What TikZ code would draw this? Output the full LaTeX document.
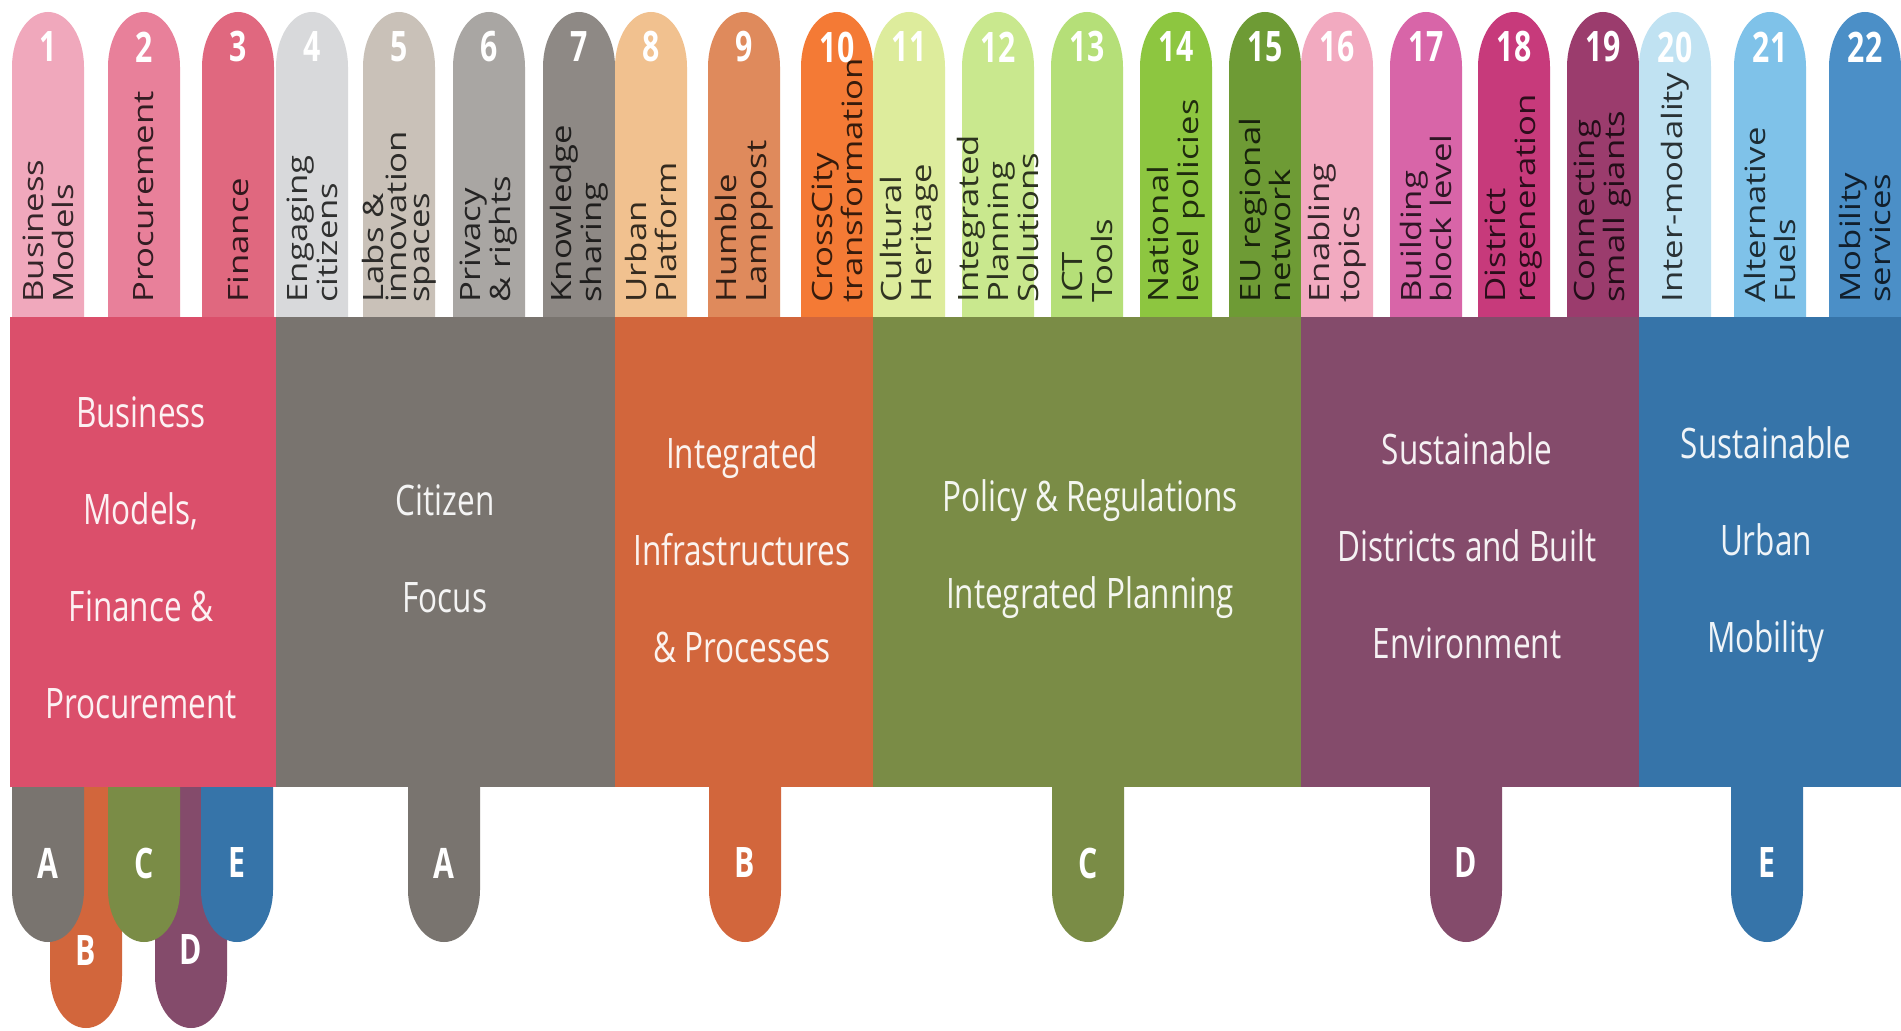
\documentclass[tikz,border=0pt]{standalone}
\usepackage{fontspec}
\setmainfont{Open Sans}
\newfontfamily\labelfont[FakeStretch=1.24]{Open Sans}
\newfontfamily\titlefont[FakeStretch=0.75]{Open Sans}
\newfontfamily\numfont[FakeStretch=0.72]{Open Sans}
\usepackage{tikz}
\definecolor{pl1}{HTML}{F0A8BC}
\definecolor{pl2}{HTML}{E8809A}
\definecolor{pl3}{HTML}{E0687F}
\definecolor{pl4}{HTML}{D8D9DB}
\definecolor{pl5}{HTML}{C9C1B8}
\definecolor{pl6}{HTML}{A9A6A3}
\definecolor{pl7}{HTML}{8E8985}
\definecolor{pl8}{HTML}{F1C18F}
\definecolor{pl9}{HTML}{DF8A5C}
\definecolor{pl10}{HTML}{F47A35}
\definecolor{pl11}{HTML}{DDEC9C}
\definecolor{pl12}{HTML}{C9E88E}
\definecolor{pl13}{HTML}{B5DF78}
\definecolor{pl14}{HTML}{8DC640}
\definecolor{pl15}{HTML}{6E9B35}
\definecolor{pl16}{HTML}{F2AAC0}
\definecolor{pl17}{HTML}{D865A8}
\definecolor{pl18}{HTML}{C73A7B}
\definecolor{pl19}{HTML}{9B3C6D}
\definecolor{pl20}{HTML}{C0E2F2}
\definecolor{pl21}{HTML}{7FC2E9}
\definecolor{pl22}{HTML}{4B8FC7}
\definecolor{bandRed}{HTML}{DB4F6B}
\definecolor{bandGray}{HTML}{79746F}
\definecolor{bandOrange}{HTML}{D2663C}
\definecolor{bandGreen}{HTML}{7A8C46}
\definecolor{bandPurple}{HTML}{844B6B}
\definecolor{bandBlue}{HTML}{3674A9}
\tikzset{
    num/.style      = {text=white, inner sep=0pt,
            font=\numfont\bfseries\fontsize{21}{21}\selectfont},
    letter/.style   = {num},
    lab/.style      = {rotate=90, anchor=west, align=left, inner sep=0pt,
            font=\labelfont\fontsize{14}{15}\selectfont},
    labTight/.style = {lab, font=\labelfont\fontsize{14}{11.5}\selectfont},
    title/.style    = {anchor=base, align=center, inner sep=0pt,
            font=\titlefont\fontsize{21}{48.5}\selectfont},
}
% pill on top: left x, colour, number, label style, label
\newcommand{\topPill}[5]{%
    \fill[#2] (#1,700) -- (#1,963)
        arc[start angle=180, end angle=0, x radius=36, y radius=55]
        -- (#1+72,700) -- cycle;
    \node[num] (num#3) at (#1+36,983) {#3};
    \node[#4, text=#2!22!black] (lab#3) at (#1+36,727) {#5};
}
% tab below: left x, colour, bottom, letter, letter height, name
\newcommand{\dropTab}[6]{%
    \fill[#2] (#1,243) -- (#1,#3+52)
        arc[start angle=180, end angle=360, x radius=36, y radius=52]
        -- (#1+72,243) -- cycle;
    \node[letter] (#6) at (#1+36,#5) {#4};
}
\begin{document}
\begin{tikzpicture}[x=0.5pt, y=0.5pt]
    \fill[white] (0,0) rectangle (1901,1030);

    % Pills
    \topPill{12}{pl1}{1}{lab}{Business\\Models}
    \topPill{108}{pl2}{2}{lab}{Procurement}
    \topPill{202}{pl3}{3}{lab}{Finance}
    \topPill{276}{pl4}{4}{lab}{Engaging\\citizens}
    \topPill{363}{pl5}{5}{labTight}{Labs \&\\innovation\\spaces}
    \topPill{453}{pl6}{6}{lab}{Privacy\\\& rights}
    \topPill{543}{pl7}{7}{lab}{Knowledge\\sharing}
    \topPill{615}{pl8}{8}{lab}{Urban\\Platform}
    \topPill{708}{pl9}{9}{lab}{Humble\\Lamppost}
    \topPill{801}{pl10}{10}{lab}{CrossCity\\transformation}
    \topPill{873}{pl11}{11}{lab}{Cultural\\Heritage}
    \topPill{962}{pl12}{12}{labTight}{Integrated\\Planning\\Solutions}
    \topPill{1051}{pl13}{13}{lab}{ICT\\Tools}
    \topPill{1140}{pl14}{14}{lab}{National\\level policies}
    \topPill{1229}{pl15}{15}{lab}{EU regional\\network}
    \topPill{1301}{pl16}{16}{lab}{Enabling\\topics}
    \topPill{1390}{pl17}{17}{lab}{Building\\block level}
    \topPill{1478}{pl18}{18}{lab}{District\\regeneration}
    \topPill{1567}{pl19}{19}{lab}{Connecting\\small giants}
    \topPill{1639}{pl20}{20}{lab}{Inter-modality}
    \topPill{1734}{pl21}{21}{lab}{Alternative\\Fuels}
    \topPill{1829}{pl22}{22}{lab}{Mobility\\services}

    % Bands
    \fill[bandRed]    (10,243)   rectangle (276,713);
    \fill[bandGray]   (276,243)  rectangle (615,713);
    \fill[bandOrange] (615,243)  rectangle (873,713);
    \fill[bandGreen]  (873,243)  rectangle (1301,713);
    \fill[bandPurple] (1301,243) rectangle (1639,713);
    \fill[bandBlue]   (1639,243) rectangle (1901,713);

    % titles, placed at the baseline of their last line
    \node[title, text=bandRed!8!white]    (tRed)    at (141,312)  {Business\\Models,\\Finance \&\\Procurement};
    \node[title, text=bandGray!8!white]   (tGray)   at (445,418)  {Citizen\\Focus};
    \node[title, text=bandOrange!8!white] (tOrange) at (742,368)  {Integrated\\Infrastructures\\\& Processes};
    \node[title, text=bandGreen!8!white]  (tGreen)  at (1090,422) {Policy \& Regulations\\Integrated Planning};
    \node[title, text=bandPurple!8!white] (tPurple) at (1467,372) {Sustainable\\Districts and Built\\Environment};
    \node[title, text=bandBlue!8!white]   (tBlue)   at (1766,378) {Sustainable\\Urban\\Mobility};

    % Tabs
    \dropTab{50}{bandOrange}{2}{B}{79}{mixB}
    \dropTab{155}{bandPurple}{2}{D}{80}{mixD}
    \dropTab{12}{bandGray}{88}{A}{167}{mixA}
    \dropTab{108}{bandGreen}{88}{C}{167}{mixC}
    \dropTab{201}{bandBlue}{88}{E}{167}{mixE}
    \dropTab{408}{bandGray}{88}{A}{167}{tabA}
    \dropTab{709}{bandOrange}{88}{B}{167}{tabB}
    \dropTab{1052}{bandGreen}{88}{C}{167}{tabC}
    \dropTab{1430}{bandPurple}{88}{D}{167}{tabD}
    \dropTab{1731}{bandBlue}{88}{E}{167}{tabE}
\end{tikzpicture}
\end{document}
